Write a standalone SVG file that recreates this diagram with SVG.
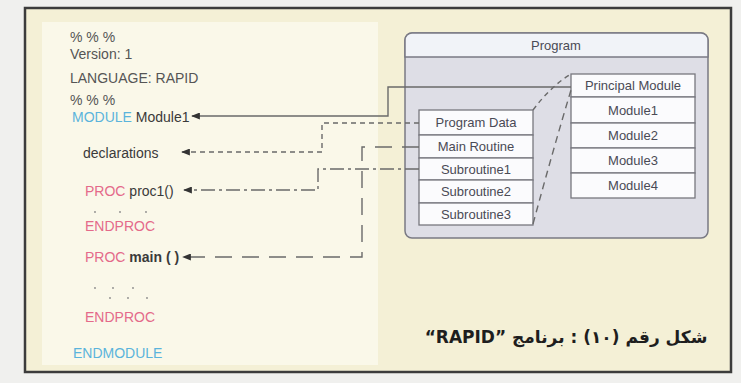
<svg xmlns="http://www.w3.org/2000/svg" width="741" height="383" viewBox="0 0 741 383">
<style>
.code{font-family:"Liberation Sans",Arial,sans-serif;font-size:14px;fill:#555}
.dark{fill:#3a3a3a}
.kw{fill:#e46a8a}
.mod{fill:#5ab4dc}
.cell{font-family:"Liberation Sans",Arial,sans-serif;font-size:13px;fill:#4a4a55;text-anchor:middle}
.row{fill:#fbfbfd;stroke:#77777f;stroke-width:1.3}
.ln{fill:none;stroke:#6a6a6a;stroke-width:1.4}
.dot{fill:#8a8a8a}
</style>
<defs>
<marker id="ah" viewBox="0 0 10 8" refX="9" refY="4" markerWidth="9" markerHeight="7" markerUnits="userSpaceOnUse" orient="auto">
<path d="M0,0 L10,4 L0,8 z" fill="#333"/>
</marker>
</defs>
<rect x="0" y="0" width="741" height="383" fill="#f0f0ee"/>
<rect x="25" y="8" width="706" height="364" fill="#f4f0d6" stroke="#3c3c3c" stroke-width="2.5"/>
<rect x="42" y="22" width="336" height="343" fill="#faf8e9"/>

<g id="code">
<text class="code" x="70" y="42">% % %</text>
<text class="code" x="70" y="59">Version: 1</text>
<text class="code" x="70" y="83">LANGUAGE: RAPID</text>
<text class="code" x="70" y="105">% % %</text>
<text class="code" x="72" y="122"><tspan class="mod">MODULE</tspan> <tspan class="dark">Module1</tspan></text>
<text class="code dark" x="83" y="158">declarations</text>
<text class="code" x="85" y="196"><tspan class="kw">PROC</tspan> <tspan class="dark">proc1()</tspan></text>
<g class="dot">
<circle cx="95" cy="212" r="0.9"/><circle cx="120" cy="212" r="0.9"/><circle cx="146" cy="212" r="0.9"/>
<circle cx="95" cy="288" r="0.9"/><circle cx="113" cy="288" r="0.9"/><circle cx="133" cy="288" r="0.9"/>
<circle cx="110" cy="298" r="0.9"/><circle cx="128" cy="298" r="0.9"/><circle cx="147" cy="298" r="0.9"/>
</g>
<text class="code kw" x="85" y="231">ENDPROC</text>
<text class="code" x="85" y="262"><tspan class="kw">PROC</tspan> <tspan class="dark" font-weight="bold">main ( )</tspan></text>
<text class="code kw" x="85" y="322">ENDPROC</text>
<text class="code mod" x="73" y="358">ENDMODULE</text>
</g>

<g id="program">
<rect x="405" y="33" width="303" height="205" rx="7" fill="#dedee6" stroke="#7a7a84" stroke-width="1.5"/>
<path d="M405,57 V40 a7,7 0 0 1 7,-7 H701 a7,7 0 0 1 7,7 V57 z" fill="#f1f3f8" stroke="#7a7a84" stroke-width="1.5"/>
<text class="cell" x="556" y="50" font-size="13.5">Program</text>
</g>

<g id="routines">
<rect class="row" x="419" y="110" width="114" height="25"/>
<rect class="row" x="419" y="135" width="114" height="23"/>
<rect class="row" x="419" y="158" width="114" height="22"/>
<rect class="row" x="419" y="180" width="114" height="23"/>
<rect class="row" x="419" y="203" width="114" height="22"/>
<text class="cell" x="476" y="127">Program Data</text>
<text class="cell" x="476" y="151">Main Routine</text>
<text class="cell" x="476" y="174">Subroutine1</text>
<text class="cell" x="476" y="196">Subroutine2</text>
<text class="cell" x="476" y="219">Subroutine3</text>
</g>

<g id="modules">
<rect class="row" x="571" y="74" width="124" height="23" fill="#f8f7dc"/>
<rect class="row" x="571" y="97" width="124" height="26"/>
<rect class="row" x="571" y="123" width="124" height="25"/>
<rect class="row" x="571" y="148" width="124" height="25"/>
<rect class="row" x="571" y="173" width="124" height="25"/>
<text class="cell" x="633" y="90">Principal Module</text>
<text class="cell" x="633" y="115">Module1</text>
<text class="cell" x="633" y="140">Module2</text>
<text class="cell" x="633" y="165">Module3</text>
<text class="cell" x="633" y="190">Module4</text>
</g>

<g id="connectors">
<path class="ln" d="M571,87 H388 V116 H192" marker-end="url(#ah)"/>
<path class="ln" d="M419,123 H322 V152 H182" stroke-dasharray="5,4" marker-end="url(#ah)"/>
<path class="ln" d="M419,169 H318 V190 H184" stroke-dasharray="14,4,3,4" marker-end="url(#ah)"/>
<path class="ln" d="M419,147 H362 V257 H183" stroke-dasharray="17,10" marker-end="url(#ah)"/>
<path class="ln" d="M533,110 Q551,86 571,74" stroke-dasharray="5,4" stroke-width="1.2"/>
<path class="ln" d="M533,224 Q553,150 571,90" stroke-dasharray="7,5" stroke-width="1.2"/>
</g>

<text x="566" y="343" direction="rtl" text-anchor="middle" font-family="'DejaVu Sans',sans-serif" font-size="17" font-weight="bold" fill="#1e1e1e">شكل رقم (١٠) : برنامج ”RAPID“</text>
</svg>
